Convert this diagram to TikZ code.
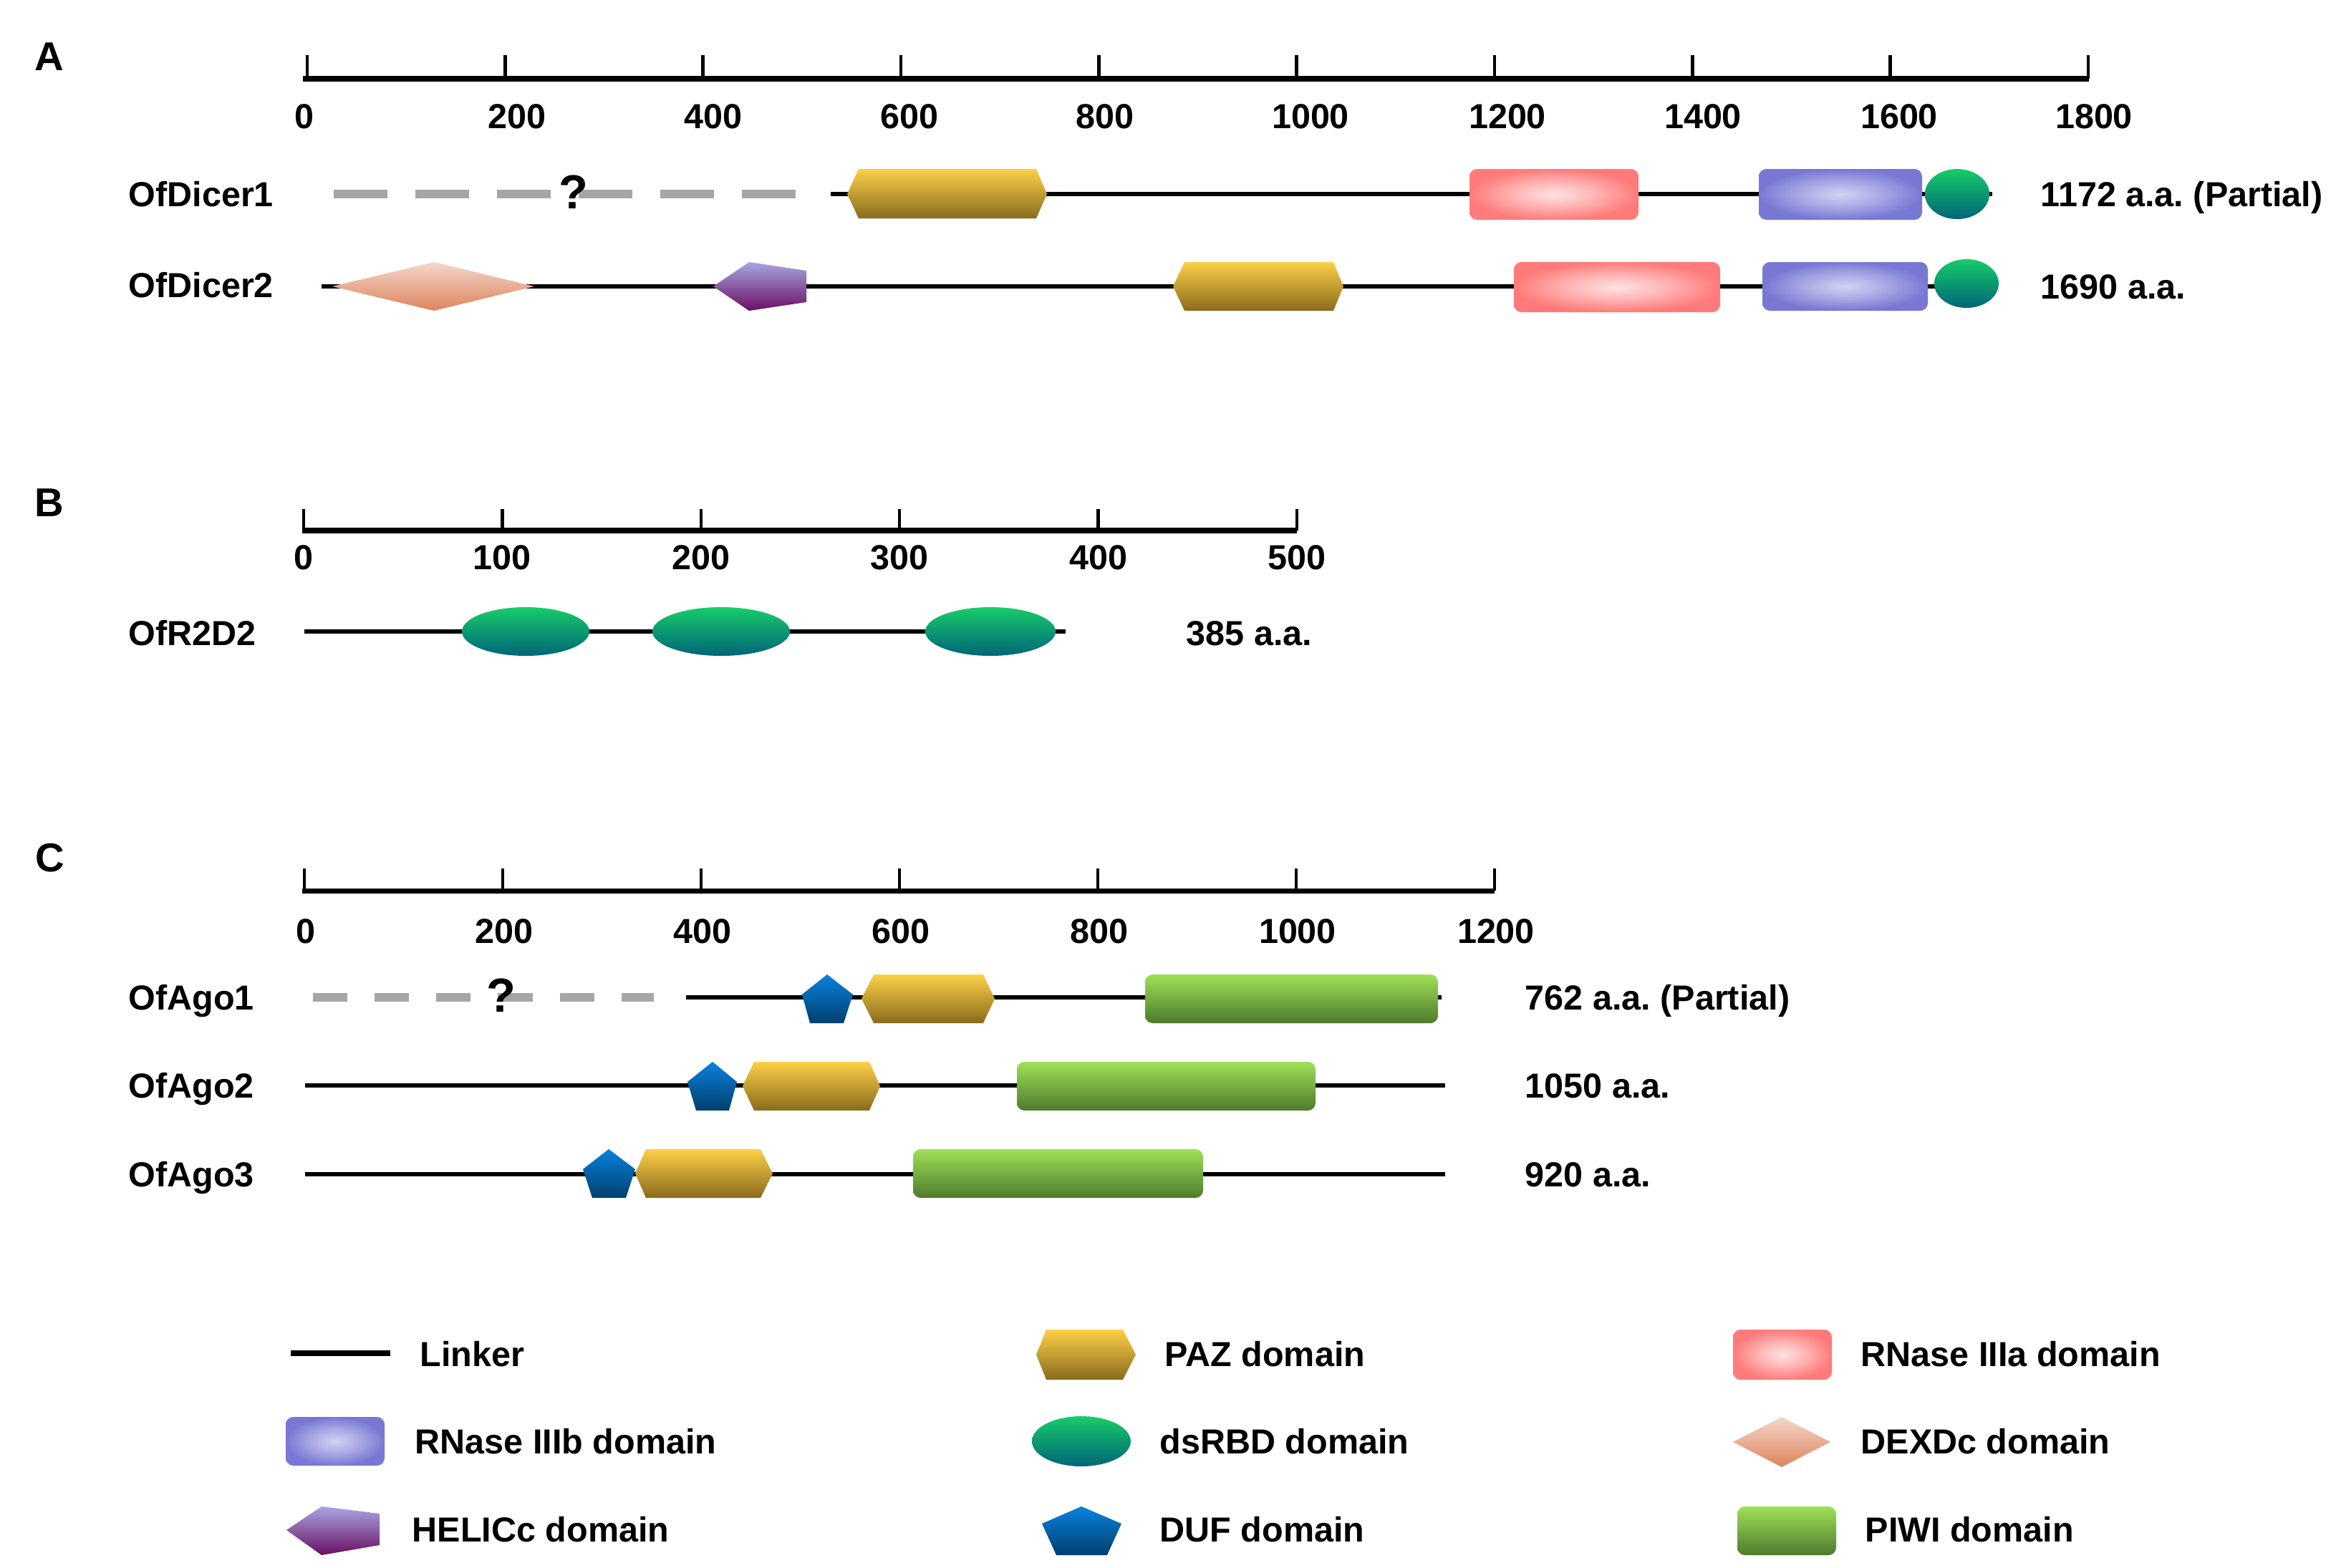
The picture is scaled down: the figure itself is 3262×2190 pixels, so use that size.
\documentclass[tikz,border=0pt]{standalone}
\usepackage{fontspec}
\setmainfont{Liberation Sans}
\usepackage{tikz}

\definecolor{pazTop}{HTML}{FDD046}
\definecolor{pazBot}{HTML}{8A6B1E}
\definecolor{rnaAin}{HTML}{FFE3E3}
\definecolor{rnaAout}{HTML}{FF7B7B}
\definecolor{rnaBin}{HTML}{D3D3F2}
\definecolor{rnaBout}{HTML}{7878D4}
\definecolor{dsTop}{HTML}{17CC69}
\definecolor{dsBot}{HTML}{006578}
\definecolor{dexTop}{HTML}{F4D8CC}
\definecolor{dexBot}{HTML}{DE835C}
\definecolor{helTop}{HTML}{A8A6E2}
\definecolor{helBot}{HTML}{6A0F62}
\definecolor{dufTop}{HTML}{0882DE}
\definecolor{dufBot}{HTML}{003F6D}
\definecolor{piwiTop}{HTML}{9FE157}
\definecolor{piwiBot}{HTML}{4E7A2D}
\definecolor{gapgray}{HTML}{A6A6A6}

\pgfdeclareradialshading{glowA}{\pgfpointorigin}{color(0bp)=(rnaAin); color(12bp)=(rnaAin!55!rnaAout); color(25bp)=(rnaAout); color(50bp)=(rnaAout)}
\pgfdeclareradialshading{glowB}{\pgfpointorigin}{color(0bp)=(rnaBin); color(12bp)=(rnaBin!55!rnaBout); color(25bp)=(rnaBout); color(50bp)=(rnaBout)}

\frenchspacing
\begin{document}
\begin{tikzpicture}[x=0.01cm, y=-0.01cm,
    every node/.style={font=\bfseries\fontsize{13.8}{16}\selectfont, inner sep=0pt, text height=9.9pt, text depth=0pt},
    rowlabel/.style={anchor=west},
    panel/.style={font=\bfseries\fontsize{16}{19}\selectfont, text height=11.5pt},
    qmark/.style={font=\bfseries\fontsize{19}{22}\selectfont, text height=13.6pt},
    axisline/.style={line width=2pt},
    tickmark/.style={line width=1.3pt},
    linker/.style={line width=1.9pt},
    gapline/.style={line width=3.4pt, gapgray},
    pazdom/.style={top color=pazTop, bottom color=pazBot},
    rnaseA/.style={shading=glowA, rounded corners=3pt},
    rnaseB/.style={shading=glowB, rounded corners=3pt},
    dsrbd/.style={top color=dsTop, bottom color=dsBot},
    dexdc/.style={top color=dexTop, bottom color=dexBot},
    helicc/.style={top color=helTop, bottom color=helBot},
    dufdom/.style={top color=dufTop, bottom color=dufBot},
    piwidom/.style={top color=piwiTop, bottom color=piwiBot, rounded corners=3pt}]
    \useasboundingbox (0,0) rectangle (3262,2190);

    % A: Dicer
    \node[panel] (pA) at (69,78) {A};
    \draw[axisline] (423,110) -- (2917,110);
    \foreach \v/\lx in {0/425,200/722,400/996,600/1270,800/1543,1000/1830,1200/2105,1400/2378,1600/2652,1800/2924} {
        \draw[tickmark] ({429+1.3817*\v},110) -- ({429+1.3817*\v},77);
        \node (ta\v) at (\lx,162) {\v};
    }
    \node[rowlabel] (dicer1) at (179,271) {OfDicer1};
    \draw[gapline, dash pattern=on 21.3pt off 11.1pt] (466,271) -- (1113,271);
    \node[qmark] (q1) at (801,268) {?};
    \draw[linker] (1160,271) -- (2782,271);
    \shade[pazdom] (1183,271) -- (1199,236) -- (1447,236) -- (1462,271) -- (1447,305) -- (1199,305) -- cycle;
    \shade[rnaseA] (2052,236) rectangle (2288,307);
    \shade[rnaseB] (2456,236) rectangle (2684,307);
    \shade[dsrbd] (2733,271) ellipse [x radius=45, y radius=35];
    \node[rowlabel] (dicer1len) at (2849,271) {1172 a.a. (Partial)};

    \node[rowlabel] (dicer2) at (179,398) {OfDicer2};
    \draw[linker] (449,400) -- (2746,400);
    \shade[dexdc] (464,400) -- (606,366) -- (746,400) -- (606,434) -- cycle;
    \shade[helicc] (996,400) -- (1046,366) -- (1126,378) -- (1126,422) -- (1046,434) -- cycle;
    \shade[pazdom] (1638,400) -- (1654,366) -- (1862,366) -- (1876,400) -- (1862,434) -- (1654,434) -- cycle;
    \shade[rnaseA] (2114,366) rectangle (2402,436);
    \shade[rnaseB] (2461,366) rectangle (2692,434);
    \shade[dsrbd] (2746,396) ellipse [x radius=45, y radius=34];
    \node[rowlabel] (dicer2len) at (2849,400) {1690 a.a.};

    % B: R2D2
    \node[panel] (pB) at (69,701) {B};
    \draw[axisline] (422,741) -- (1811,741);
    \foreach \v in {0,100,...,500} {
        \draw[tickmark] ({424+2.774*\v},741) -- ({424+2.774*\v},711);
        \node (tb\v) at ({424+2.774*\v},778) {\v};
    }
    \node[rowlabel] (r2d2) at (179,884) {OfR2D2};
    \draw[linker] (425,882) -- (1488,882);
    \shade[dsrbd] (734,882) ellipse [x radius=89, y radius=34];
    \shade[dsrbd] (1007,882) ellipse [x radius=96, y radius=34];
    \shade[dsrbd] (1383,882) ellipse [x radius=91, y radius=34];
    \node[rowlabel] (r2d2len) at (1656,884) {385 a.a.};

    % C: Ago
    \node[panel] (pC) at (70,1197) {C};
    \draw[axisline] (422,1244) -- (2087,1244);
    \foreach \v in {0,200,...,1200} {
        \draw[tickmark] ({425+1.385*\v},1244) -- ({425+1.385*\v},1213);
        \node (tc\v) at ({427+1.385*\v},1300) {\v};
    }
    \node[rowlabel] (ago1) at (179,1393) {OfAgo1};
    \draw[gapline, dash pattern=on 13.7pt off 10.8pt] (437,1393) -- (913,1393);
    \node[qmark] (q2) at (700,1390) {?};
    \draw[linker] (958,1393) -- (2013,1393);
    \shade[dufdom] (1155,1361) -- (1191,1389) -- (1178,1429) -- (1131,1429) -- (1120,1389) -- cycle;
    \shade[pazdom] (1203,1395) -- (1220,1361) -- (1373,1361) -- (1389,1395) -- (1373,1429) -- (1220,1429) -- cycle;
    \shade[piwidom] (1599,1361) rectangle (2008,1429);
    \node[rowlabel] (ago1len) at (2129,1393) {762 a.a. (Partial)};

    \node[rowlabel] (ago2) at (179,1516) {OfAgo2};
    \draw[linker] (426,1516) -- (2018,1516);
    \shade[dufdom] (995,1483) -- (1029,1511) -- (1018,1551) -- (972,1551) -- (960,1511) -- cycle;
    \shade[pazdom] (1037,1517) -- (1053,1483) -- (1214,1483) -- (1229,1517) -- (1214,1551) -- (1053,1551) -- cycle;
    \shade[piwidom] (1420,1483) rectangle (1837,1551);
    \node[rowlabel] (ago2len) at (2129,1516) {1050 a.a.};

    \node[rowlabel] (ago3) at (179,1640) {OfAgo3};
    \draw[linker] (426,1640) -- (2018,1640);
    \shade[dufdom] (850,1605) -- (887,1633) -- (874,1673) -- (827,1673) -- (814,1633) -- cycle;
    \shade[pazdom] (887,1639) -- (902,1605) -- (1062,1605) -- (1079,1639) -- (1062,1673) -- (902,1673) -- cycle;
    \shade[piwidom] (1275,1605) rectangle (1680,1673);
    \node[rowlabel] (ago3len) at (2129,1640) {920 a.a.};

    % legend
    \draw[line width=2.3pt] (406,1890) -- (545,1890);
    \node[rowlabel] (lgLinker) at (586,1891) {Linker};
    \shade[pazdom] (1447,1892) -- (1461,1857) -- (1568,1857) -- (1586,1892) -- (1568,1927) -- (1461,1927) -- cycle;
    \node[rowlabel] (lgPaz) at (1626,1891) {PAZ domain};
    \shade[rnaseA] (2420,1857) rectangle (2558,1927);
    \node[rowlabel] (lgRnaseA) at (2598,1891) {RNase IIIa domain};

    \shade[rnaseB] (399,1979) rectangle (537,2047);
    \node[rowlabel] (lgRnaseB) at (579,2013) {RNase IIIb domain};
    \shade[dsrbd] (1510,2013) ellipse [x radius=69, y radius=35];
    \node[rowlabel] (lgDsrbd) at (1619,2013) {dsRBD domain};
    \shade[dexdc] (2420,2014) -- (2488,1979) -- (2556,2014) -- (2488,2049) -- cycle;
    \node[rowlabel] (lgDexdc) at (2598,2013) {DEXDc domain};

    \shade[helicc] (400,2137) -- (449,2104) -- (530,2114) -- (530,2158) -- (449,2172) -- cycle;
    \node[rowlabel] (lgHelicc) at (575,2136) {HELICc domain};
    \shade[dufdom] (1510,2104) -- (1566,2128) -- (1546,2172) -- (1475,2172) -- (1455,2128) -- cycle;
    \node[rowlabel] (lgDuf) at (1619,2136) {DUF domain};
    \shade[piwidom] (2426,2104) rectangle (2564,2172);
    \node[rowlabel] (lgPiwi) at (2604,2136) {PIWI domain};
\end{tikzpicture}
\end{document}
